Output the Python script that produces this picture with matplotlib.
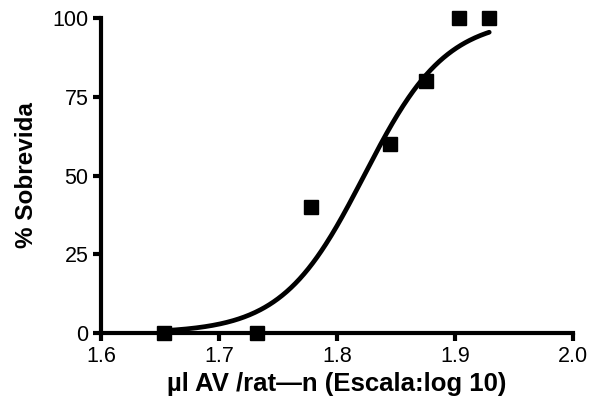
import numpy as np
import matplotlib
matplotlib.use("Agg")
import matplotlib.pyplot as plt

plt.rcParams['font.family'] = ['Liberation Sans', 'DejaVu Sans']

# data
dose_log = [1.653, 1.732, 1.778, 1.845, 1.875, 1.903, 1.929]
survival = [0, 0, 40, 60, 80, 100, 100]
# fitted sigmoid parameters
log_ec50 = 1.823
hill = 12.5
bottom, top = 0, 100

xt = [1.6, 1.7, 1.8, 1.9, 2.0]
yt = [0, 25, 50, 75, 100]

fig = plt.figure(figsize=(5.91, 4.08), dpi=100)
ax = fig.add_axes([101/591, 75/408, 472/591, 315/408])

xf = np.linspace(min(dose_log), max(dose_log), 300)
yf = bottom + (top - bottom) / (1 + 10 ** ((log_ec50 - xf) * hill))
ax.plot(xf, yf, color='black', lw=3.4, solid_capstyle='round', zorder=2)
ax.plot(dose_log, survival, 's', color='black', ms=9.5, zorder=3, clip_on=False)

ax.set_xlim(1.6, 2.0)
ax.set_ylim(0, 100)
ax.set_xticks(xt)
ax.set_xticklabels([f"{v:.1f}" for v in xt])
ax.set_yticks(yt)
for s in ['top', 'right']:
    ax.spines[s].set_visible(False)
for s in ['left', 'bottom']:
    ax.spines[s].set_linewidth(3)
ax.tick_params(width=3, length=6, labelsize=15.5, pad=3)
ax.set_xlabel("µl AV /rat—n (Escala:log 10)", fontsize=18.5, fontweight='bold', labelpad=4)
ax.set_ylabel("% Sobrevida", fontsize=17.5, fontweight='bold', labelpad=10)

fig.savefig("out.png", dpi=100)
